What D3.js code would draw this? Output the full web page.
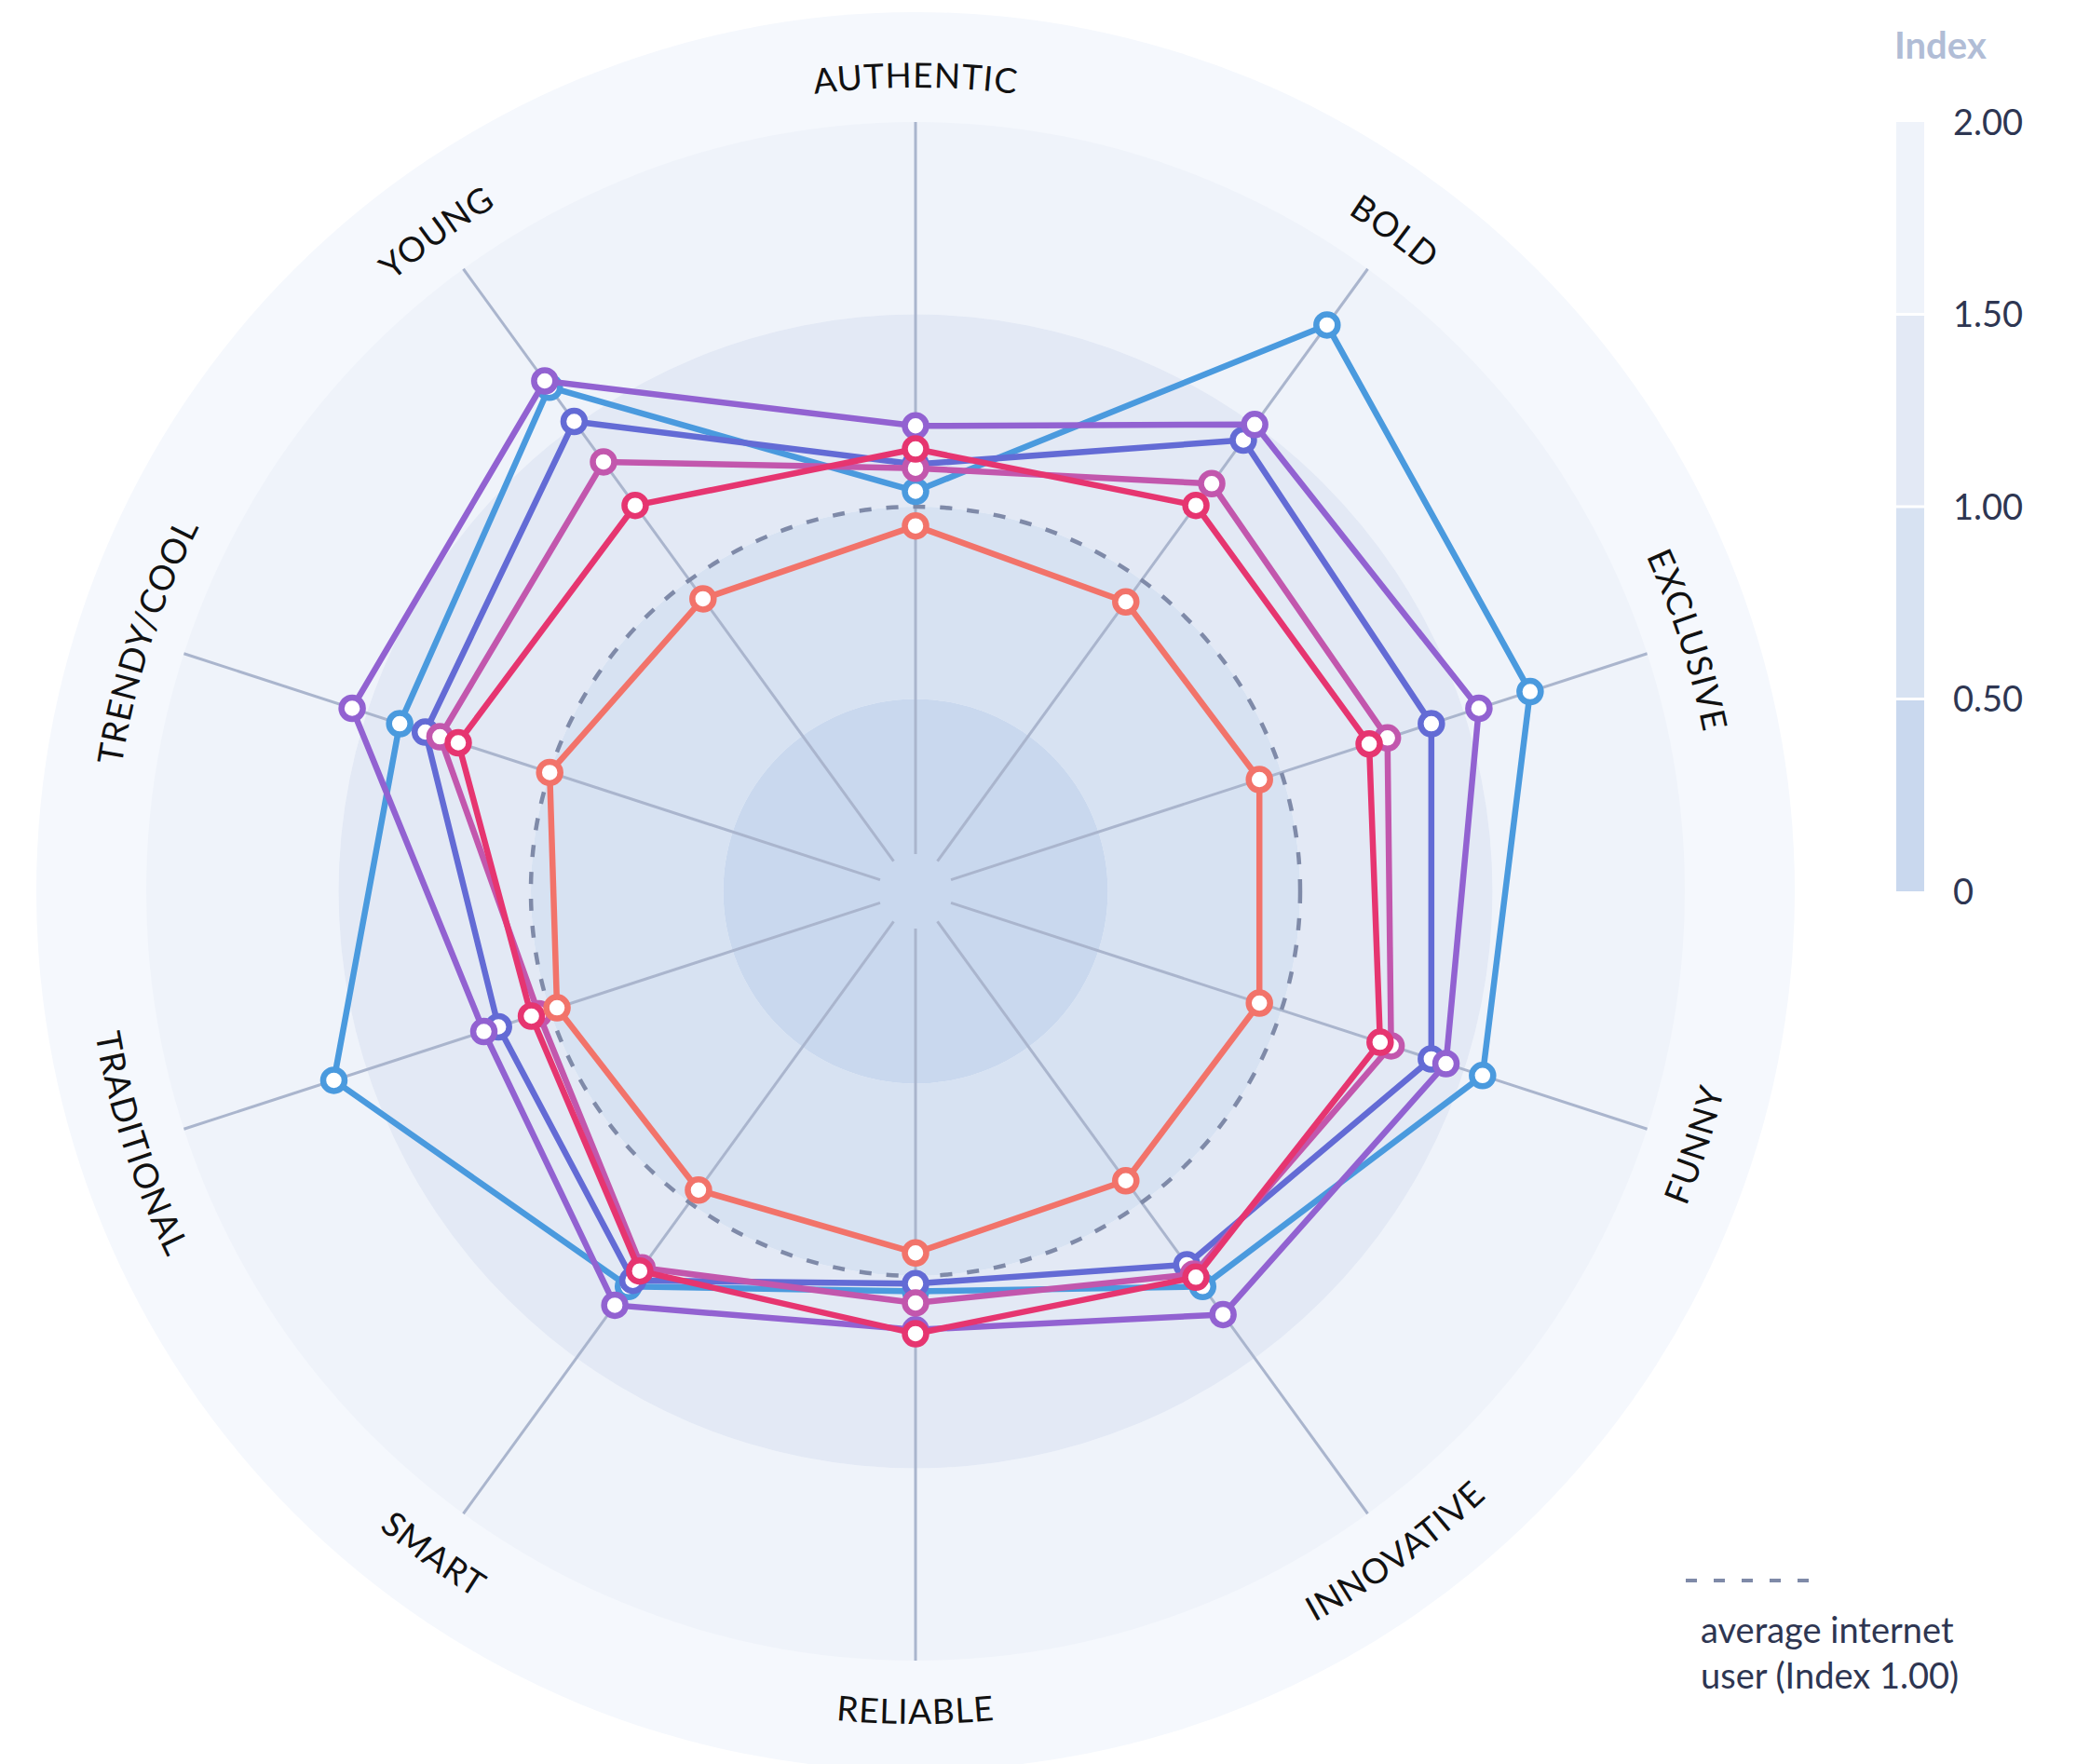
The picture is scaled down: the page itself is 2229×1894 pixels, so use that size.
<!DOCTYPE html>
<html>
<head>
<meta charset="utf-8">
<script src="https://cdn.jsdelivr.net/npm/d3@7"></script>
<style>
  html, body { margin: 0; padding: 0; background: #ffffff; }
  svg { display: block; font-family: Lato, "Open Sans", sans-serif; }
</style>
</head>
<body>
<svg id="chart" width="2229" height="1894"></svg>
<script>
// Brand attribute axes, clockwise from the top
const categories = ["AUTHENTIC", "BOLD", "EXCLUSIVE", "FUNNY", "INNOVATIVE",
                    "RELIABLE", "SMART", "TRADITIONAL", "TRENDY/COOL", "YOUNG"];

// Index values per series (1.00 = average internet user)
const blueValues    = [1.04, 1.82, 1.68, 1.55, 1.27, 1.04, 1.27, 1.59, 1.41, 1.62];
const indigoValues  = [1.11, 1.45, 1.41, 1.41, 1.20, 1.02, 1.25, 1.14, 1.34, 1.51];
const purpleValues  = [1.21, 1.50, 1.54, 1.45, 1.36, 1.14, 1.33, 1.18, 1.54, 1.64];
const magentaValues = [1.10, 1.31, 1.29, 1.30, 1.23, 1.07, 1.21, 1.03, 1.30, 1.38];
const crimsonValues = [1.15, 1.24, 1.24, 1.27, 1.24, 1.15, 1.22, 1.05, 1.25, 1.24];
const coralValues   = [0.95, 0.93, 0.94, 0.94, 0.93, 0.94, 0.96, 0.98, 1.00, 0.94];

// Background bands and legend ticks
const bandBreaks  = [0, 0.5, 1, 1.5, 2];
const tickLabels  = ["0", "0.50", "1.00", "1.50", "2.00"];
const averageIndex = 1.0;

const series = [
  { values: blueValues,    color: "#4a9ade" },
  { values: indigoValues,  color: "#636bd5" },
  { values: purpleValues,  color: "#9262d1" },
  { values: magentaValues, color: "#c257ad" },
  { values: crimsonValues, color: "#e63570" },
  { values: coralValues,   color: "#f2736a" }
];

const bandColors = ["#c9d8ee", "#d7e2f2", "#e3e9f5", "#eff3fa"];
const labelBandColor = "#f5f8fd";

const svg = d3.select("#chart");
const cx = 983, cy = 957;
const rMax = 826;

const r = d3.scaleLinear().domain([0, 2]).range([0, rMax]);
const angle = d3.scaleLinear().domain([0, categories.length]).range([0, 2 * Math.PI]);

const g = svg.append("g").attr("transform", `translate(${cx},${cy})`);

// Outer band holding the axis labels
g.append("circle").attr("r", rMax + 118).attr("fill", labelBandColor);

// Concentric index bands
const bandArc = d3.arc().startAngle(0).endAngle(2 * Math.PI);
d3.range(bandBreaks.length - 1).reverse().forEach(i => {
  g.append("path")
    .attr("d", bandArc({ innerRadius: r(bandBreaks[i]), outerRadius: r(bandBreaks[i + 1]) }))
    .attr("fill", bandColors[i]);
});

// Spokes
g.append("g").selectAll("line")
  .data(categories)
  .join("line")
  .attr("x1", (d, i) => 40 * Math.sin(angle(i)))
  .attr("y1", (d, i) => -40 * Math.cos(angle(i)))
  .attr("x2", (d, i) => r(2) * Math.sin(angle(i)))
  .attr("y2", (d, i) => -r(2) * Math.cos(angle(i)))
  .attr("stroke", "#aab5cd")
  .attr("stroke-width", 3);

// Average reference circle
g.append("circle")
  .attr("r", r(averageIndex))
  .attr("fill", "none")
  .attr("stroke", "#7f8aa8")
  .attr("stroke-width", 4.5)
  .attr("stroke-dasharray", "13 16");

// Curved axis labels
const defs = svg.append("defs");
const span = 1.0;
categories.forEach((name, i) => {
  const a = angle(i);
  const deg = a * 180 / Math.PI;
  const bottom = deg > 90 && deg < 270;
  const R = bottom ? 894 : 863;
  const a0 = bottom ? a + span : a - span;
  const a1 = bottom ? a - span : a + span;
  const x0 = R * Math.sin(a0), y0 = -R * Math.cos(a0);
  const x1 = R * Math.sin(a1), y1 = -R * Math.cos(a1);
  defs.append("path")
    .attr("id", "label-arc-" + i)
    .attr("d", `M${x0},${y0} A${R},${R} 0 0 ${bottom ? 0 : 1} ${x1},${y1}`)
    .attr("transform", `translate(${cx},${cy})`);
  svg.append("text")
    .attr("font-size", 37)
    .attr("font-weight", 400)
    .attr("fill", "#111111")
    .attr("letter-spacing", 1)
    .append("textPath")
    .attr("href", "#label-arc-" + i)
    .attr("startOffset", "50%")
    .attr("text-anchor", "middle")
    .text(name);
});

// Series polygons and markers
const radialLine = d3.lineRadial()
  .angle((d, i) => angle(i))
  .radius(d => r(d))
  .curve(d3.curveLinearClosed);

series.forEach(s => {
  const sg = g.append("g");
  sg.append("path")
    .attr("d", radialLine(s.values))
    .attr("fill", "none")
    .attr("stroke", s.color)
    .attr("stroke-width", 6.5)
    .attr("stroke-linejoin", "round");
  sg.selectAll("circle")
    .data(s.values)
    .join("circle")
    .attr("cx", (d, i) => r(d) * Math.sin(angle(i)))
    .attr("cy", (d, i) => -r(d) * Math.cos(angle(i)))
    .attr("r", 11.5)
    .attr("fill", "#ffffff")
    .attr("stroke", s.color)
    .attr("stroke-width", 6.5);
});

// Index legend
const legend = svg.append("g");
const barX = 2036, barW = 30;
legend.append("text")
  .attr("x", barX - 2).attr("y", 63)
  .attr("font-size", 40).attr("font-weight", 700)
  .attr("fill", "#b1bdd6")
  .text("Index");

d3.range(bandBreaks.length - 1).forEach(i => {
  const yTop = cy - r(bandBreaks[i + 1]);
  const yBot = cy - r(bandBreaks[i]);
  legend.append("rect")
    .attr("x", barX).attr("y", yTop)
    .attr("width", barW).attr("height", yBot - yTop)
    .attr("fill", bandColors[i]);
});
bandBreaks.slice(1, -1).forEach(v => {
  legend.append("line")
    .attr("x1", barX).attr("x2", barX + barW)
    .attr("y1", cy - r(v)).attr("y2", cy - r(v))
    .attr("stroke", "#ffffff").attr("stroke-width", 3);
});
legend.selectAll("text.tick")
  .data(bandBreaks)
  .join("text")
  .attr("class", "tick")
  .attr("x", 2097)
  .attr("y", v => cy - r(v))
  .attr("dy", "0.36em")
  .attr("font-size", 38)
  .attr("fill", "#2e3652")
  .text((v, i) => tickLabels[i]);

// Average line key
legend.append("line")
  .attr("x1", 1810).attr("x2", 1942)
  .attr("y1", 1697).attr("y2", 1697)
  .attr("stroke", "#7f8aa8")
  .attr("stroke-width", 4)
  .attr("stroke-dasharray", "12 18");
const keyText = legend.append("text")
  .attr("font-size", 38)
  .attr("fill", "#2e3652");
keyText.append("tspan").attr("x", 1826).attr("y", 1764).text("average internet");
keyText.append("tspan").attr("x", 1826).attr("y", 1813).text("user (Index 1.00)");
</script>
</body>
</html>
